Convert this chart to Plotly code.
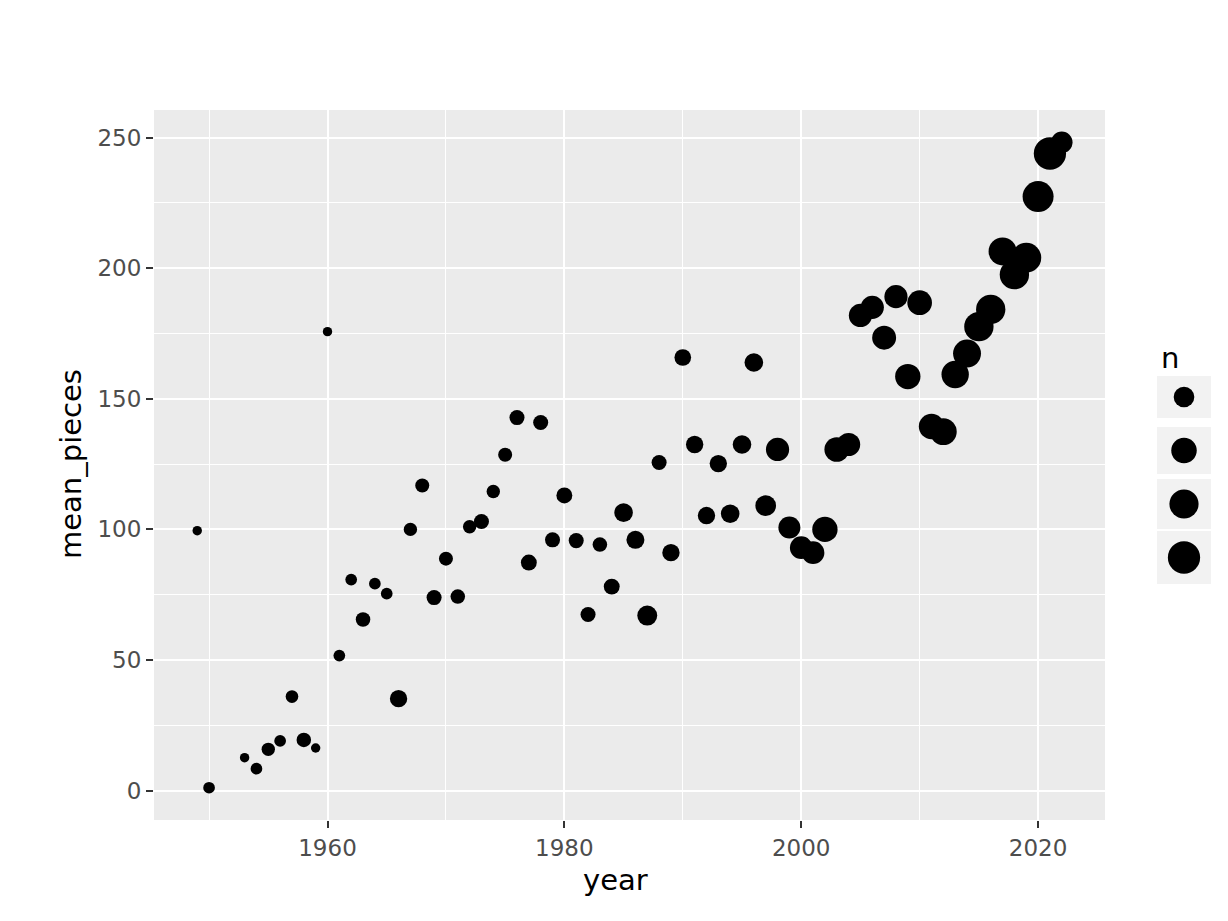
import numpy as np
import plotly.graph_objects as go

# ---- data ----
year = [1949, 1950, 1953, 1954, 1955, 1956, 1957, 1958, 1959, 1960,
        1961, 1962, 1963, 1964, 1965, 1966, 1967, 1968, 1969, 1970,
        1971, 1972, 1973, 1974, 1975, 1976, 1977, 1978, 1979, 1980,
        1981, 1982, 1983, 1984, 1985, 1986, 1987, 1988, 1989, 1990,
        1991, 1992, 1993, 1994, 1995, 1996, 1997, 1998, 1999, 2000,
        2001, 2002, 2003, 2004, 2005, 2006, 2007, 2008, 2009, 2010,
        2011, 2012, 2013, 2014, 2015, 2016, 2017, 2018, 2019, 2020,
        2021, 2022]
mean_pieces = [99.5, 1.1, 12.6, 8.4, 15.8, 19.0, 36.0, 19.4, 16.3, 175.7,
               51.7, 80.8, 65.5, 79.2, 75.4, 35.2, 100.0, 116.8, 73.9, 88.8,
               74.3, 101.0, 103.0, 114.5, 128.6, 142.8, 87.3, 140.9, 96.0, 113.0,
               95.7, 67.4, 94.2, 78.1, 106.4, 96.0, 67.0, 125.6, 91.1, 165.8,
               132.5, 105.3, 125.2, 106.0, 132.5, 163.9, 109.1, 130.6, 100.7, 93.0,
               91.1, 100.0, 130.6, 132.5, 181.9, 185.0, 173.4, 189.1, 158.5, 186.8,
               139.4, 137.4, 159.3, 167.3, 177.6, 184.2, 206.4, 197.5, 204.0, 227.4,
               243.9, 248.2]
n = [1, 2, 1, 2, 4, 2, 3, 6, 1, 1,
     2, 2, 6, 2, 2, 13, 4, 5, 7, 5,
     6, 4, 7, 4, 5, 7, 9, 7, 7, 9,
     7, 7, 6, 9, 17, 15, 22, 7, 13, 11,
     13, 13, 13, 17, 17, 17, 25, 37, 31, 34,
     34, 49, 45, 37, 37, 37, 41, 37, 49, 45,
     49, 58, 62, 66, 76, 76, 66, 76, 81, 89,
     100, 29]
legend_n = [25, 50, 75, 100]
x_ticks = [1960, 1980, 2000, 2020]
y_ticks = [0, 50, 100, 150, 200, 250]

# ---- geometry (screen px; page body has an 8px offset) ----
OFF = 8
W, H = 1228 - OFF, 921 - OFF


def fx(sx):
    return (sx - OFF) / W


def fy(sy):
    return (H - (sy - OFF)) / H


PX_L, PX_R, PX_T, PX_B = 154, 1105, 110, 820
KEY_L, KEY_R = 1157, 1211
FONT = "DejaVu Sans"
TICK_FS, TITLE_FS = 23, 29


def size_px(v):
    v = np.asarray(v, dtype=float)
    return 9.4 + 2.3 * np.sqrt(np.maximum(v - 1, 0))


def expand(vals, f=0.05):
    lo, hi = min(vals), max(vals)
    d = (hi - lo) * f
    return [lo - d, hi + d]


fig = go.Figure()

fig.add_trace(go.Scatter(
    x=year, y=mean_pieces, mode="markers",
    marker=dict(size=size_px(n), color="black", line=dict(width=0), opacity=1),
    showlegend=False, hoverinfo="skip", xaxis="x", yaxis="y"))

# legend keys on an auxiliary axis pair
leg_labels = [str(v) for v in legend_n]
leg_top, leg_bot = 370.25, 584.25
spacing = (leg_bot - leg_top) / len(legend_n)
key_h = [2 * max(21.0, d / 2 + 10.5) / spacing for d in size_px(legend_n)]
fig.add_trace(go.Bar(
    x=[1] * len(legend_n), y=leg_labels, orientation="h", width=key_h, base=0,
    marker=dict(color="#F2F2F2", line=dict(width=0)),
    showlegend=False, hoverinfo="skip", xaxis="x2", yaxis="y2"))
fig.add_trace(go.Scatter(
    x=[0.5] * len(legend_n), y=leg_labels, mode="markers",
    marker=dict(size=size_px(legend_n), color="black", line=dict(width=0), opacity=1),
    showlegend=False, hoverinfo="skip", xaxis="x2", yaxis="y2"))
# legend labels: left edge at ~1221px, running past the page edge as in the reference
lab_x = [(1221 + 0.318 * TICK_FS * len(s) - KEY_L) / (KEY_R - KEY_L) for s in leg_labels]
fig.add_trace(go.Scatter(
    x=lab_x, y=leg_labels, mode="text", text=leg_labels,
    textposition="middle center", cliponaxis=False,
    textfont=dict(family=FONT, size=TICK_FS, color="black"),
    showlegend=False, hoverinfo="skip", xaxis="x2", yaxis="y2"))

grid = dict(showgrid=True, gridcolor="white", gridwidth=2.2, zeroline=False,
            ticks="outside", ticklen=7, tickwidth=2, tickcolor="#333333",
            showline=False, tickfont=dict(family=FONT, size=TICK_FS, color="#4D4D4D"))

fig.update_layout(
    width=W, height=H,
    margin=dict(l=0, r=0, t=0, b=0, autoexpand=False),
    paper_bgcolor="white", plot_bgcolor="white",
    font=dict(family=FONT),
    showlegend=False,
    xaxis=dict(domain=[fx(PX_L), fx(PX_R)], range=expand(year),
               tickvals=x_ticks, anchor="y",
               minor=dict(dtick=10, tick0=1950, showgrid=True, gridcolor="white",
                          gridwidth=1.1, ticks=""),
               **grid),
    yaxis=dict(domain=[fy(PX_B), fy(PX_T)], range=expand(mean_pieces),
               tickvals=y_ticks, anchor="x",
               minor=dict(dtick=25, tick0=0, showgrid=True, gridcolor="white",
                          gridwidth=1.1, ticks=""),
               **grid),
    xaxis2=dict(domain=[fx(KEY_L), fx(KEY_R)], range=[0, 1], visible=False,
                anchor="y2", fixedrange=True),
    yaxis2=dict(domain=[fy(leg_bot), fy(leg_top)], type="category",
                categoryorder="array", categoryarray=leg_labels,
                range=[len(legend_n) - 0.5, -0.5], visible=False, anchor="x2",
                fixedrange=True),
    bargap=0,
)

# panel background (below gridlines)
fig.add_shape(type="rect", xref="x domain", yref="y domain", x0=0, x1=1, y0=0, y1=1,
              fillcolor="#EBEBEB", line=dict(width=0), layer="below")

ann = []
ann.append(dict(x=fx(1159), xref="paper", y=fy(358), yref="paper", text="n",
                showarrow=False, xanchor="left", yanchor="middle",
                font=dict(family=FONT, size=TITLE_FS, color="black")))
ann.append(dict(x=fx(615), xref="paper", y=fy(880), yref="paper", text="year",
                showarrow=False, xanchor="center", yanchor="middle",
                font=dict(family=FONT, size=TITLE_FS, color="black")))
ann.append(dict(x=fx(71), xref="paper", y=fy(464), yref="paper",
                text="mean_pieces", textangle=-90,
                showarrow=False, xanchor="center", yanchor="middle",
                font=dict(family=FONT, size=TITLE_FS, color="black")))
fig.update_layout(annotations=ann)

fig.write_html("out.html", config={"displayModeBar": False})
